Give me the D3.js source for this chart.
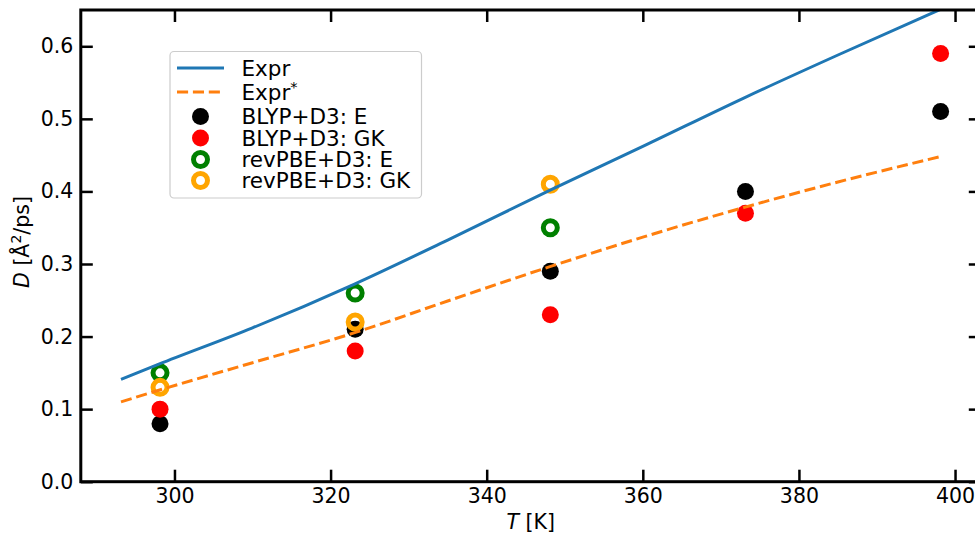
<!DOCTYPE html>
<html lang="en">
<head>
<meta charset="UTF-8">
<title>Diffusion coefficient vs temperature</title>
<script src="https://d3js.org/d3.v7.min.js"></script>
<style>
    body { margin: 0; background: #ffffff; }
    svg { display: block; font-family: "DejaVu Sans", sans-serif; }
    .tick text { font-size: 20.5px; fill: #000; font-family: "DejaVu Sans", sans-serif; }
    .tick line { stroke: #000; stroke-width: 2.5px; }
</style>
</head>
<body>
<svg width="975" height="534"></svg>
<script>
    // scatter points (temperature in K, D in Å^2/ps)
    const simTemps = [298.15, 323.15, 348.15, 373.15, 398.15];
    const blypE = [0.08, 0.21, 0.29, 0.40, 0.51];
    const blypGK = [0.10, 0.18, 0.23, 0.37, 0.59];
    const revTemps = [298.15, 323.15, 348.15];
    const revE = [0.15, 0.26, 0.35];
    const revGK = [0.13, 0.22, 0.41];

    const exprTemps = [293.15, 298, 310, 323, 335, 348, 360, 373, 385, 398.15];
    const exprD = [0.141, 0.162, 0.212, 0.272, 0.333, 0.401, 0.462, 0.529, 0.588, 0.651];
    const exprStarD = [0.110, 0.126, 0.164, 0.205, 0.249, 0.296, 0.337, 0.378, 0.413, 0.448];

    const xTicks = [300, 320, 340, 360, 380, 400];
    const yTicks = [0.0, 0.1, 0.2, 0.3, 0.4, 0.5, 0.6];

    const legendLabels = ["Expr", "Expr", "BLYP+D3: E", "BLYP+D3: GK", "revPBE+D3: E", "revPBE+D3: GK"];

    const pLeft = 80.8, pRight = 980.8, pTop = 10, pBottom = 481.7;

    let svg = d3.select("svg");

    let x = d3.scaleLinear().domain([288, 403.3]).range([pLeft, pRight]);
    let y = d3.scaleLinear().domain([0, 0.65]).range([pBottom, pTop]);

    svg.append("defs").append("clipPath")
        .attr("id", "plotClip")
        .append("rect")
        .attr("x", pLeft).attr("y", pTop)
        .attr("width", pRight - pLeft).attr("height", pBottom - pTop);

    let plot = svg.append("g").attr("clip-path", "url(#plotClip)");

    // scatter first (matplotlib puts lines on top of scatter)
    function filled(temps, vals, color) {
        plot.append("g").selectAll("circle")
            .data(temps.map((t, i) => [t, vals[i]]))
            .enter().append("circle")
            .attr("cx", d => x(d[0]))
            .attr("cy", d => y(d[1]))
            .attr("r", 8.5)
            .attr("fill", color);
    }
    function hollow(temps, vals, color) {
        plot.append("g").selectAll("circle")
            .data(temps.map((t, i) => [t, vals[i]]))
            .enter().append("circle")
            .attr("cx", d => x(d[0]))
            .attr("cy", d => y(d[1]))
            .attr("r", 7)
            .attr("fill", "none")
            .attr("stroke", color)
            .attr("stroke-width", 5);
    }
    filled(simTemps, blypE, "#000000");
    filled(simTemps, blypGK, "#ff0000");
    hollow(revTemps, revE, "#008000");
    hollow(revTemps, revGK, "#ffa500");

    let line = d3.line()
        .x(d => x(d[0]))
        .y(d => y(d[1]))
        .curve(d3.curveMonotoneX);

    plot.append("path")
        .datum(exprTemps.map((t, i) => [t, exprD[i]]))
        .attr("d", line)
        .attr("fill", "none")
        .attr("stroke", "#1f77b4")
        .attr("stroke-width", 3);

    plot.append("path")
        .datum(exprTemps.map((t, i) => [t, exprStarD[i]]))
        .attr("d", line)
        .attr("fill", "none")
        .attr("stroke", "#ff7f0e")
        .attr("stroke-width", 3)
        .attr("stroke-dasharray", "11.1,4.8");

    // axes, ticks pointing inward on all four sides
    let gx = svg.append("g")
        .attr("transform", `translate(0,${pBottom})`)
        .call(d3.axisBottom(x).tickValues(xTicks).tickSize(-12).tickPadding(7).tickFormat(d3.format("d")));
    gx.select(".domain").remove();

    let gy = svg.append("g")
        .attr("transform", `translate(${pLeft},0)`)
        .call(d3.axisLeft(y).tickValues(yTicks).tickSize(-12).tickPadding(7.5).tickFormat(d3.format(".1f")));
    gy.select(".domain").remove();

    let gxt = svg.append("g")
        .attr("transform", `translate(0,${pTop})`)
        .call(d3.axisTop(x).tickValues(xTicks).tickSize(-12).tickFormat(""));
    gxt.select(".domain").remove();

    let gyr = svg.append("g")
        .attr("transform", `translate(${pRight},0)`)
        .call(d3.axisRight(y).tickValues(yTicks).tickSize(-12).tickFormat(""));
    gyr.select(".domain").remove();

    svg.selectAll("g").attr("font-size", null).attr("font-family", null);

    // spines
    svg.append("rect")
        .attr("x", pLeft).attr("y", pTop)
        .attr("width", pRight - pLeft).attr("height", pBottom - pTop)
        .attr("fill", "none")
        .attr("stroke", "#000")
        .attr("stroke-width", 3);

    // axis labels
    let xl = svg.append("text")
        .attr("x", (pLeft + pRight) / 2)
        .attr("y", 529)
        .attr("text-anchor", "middle")
        .attr("font-size", "20.5px");
    xl.append("tspan").attr("font-style", "italic").text("T");
    xl.append("tspan").text(" [K]");

    let yl = svg.append("text")
        .attr("transform", "translate(28.5,242) rotate(-90)")
        .attr("text-anchor", "middle")
        .attr("font-size", "20.5px");
    yl.append("tspan").attr("font-style", "italic").text("D");
    yl.append("tspan").text(" [Å");
    yl.append("tspan").attr("font-size", "14px").attr("baseline-shift", "super").text("2");
    yl.append("tspan").text("/ps]");

    // legend
    let legend = svg.append("g");
    legend.append("rect")
        .attr("x", 170).attr("y", 51.5)
        .attr("width", 251.5).attr("height", 146.5)
        .attr("rx", 4)
        .attr("fill", "#ffffff")
        .attr("fill-opacity", 0.8)
        .attr("stroke", "#cccccc")
        .attr("stroke-width", 1.2);

    let rowY = [68, 92, 116.5, 138, 159.5, 180.5];

    legend.append("line")
        .attr("x1", 177).attr("x2", 224).attr("y1", rowY[0]).attr("y2", rowY[0])
        .attr("stroke", "#1f77b4").attr("stroke-width", 3);
    legend.append("line")
        .attr("x1", 177).attr("x2", 224).attr("y1", rowY[1]).attr("y2", rowY[1])
        .attr("stroke", "#ff7f0e").attr("stroke-width", 3)
        .attr("stroke-dasharray", "11.1,4.8");
    legend.append("circle").attr("cx", 200.5).attr("cy", rowY[2]).attr("r", 8.5).attr("fill", "#000000");
    legend.append("circle").attr("cx", 200.5).attr("cy", rowY[3]).attr("r", 8.5).attr("fill", "#ff0000");
    legend.append("circle").attr("cx", 200.5).attr("cy", rowY[4]).attr("r", 7)
        .attr("fill", "none").attr("stroke", "#008000").attr("stroke-width", 5);
    legend.append("circle").attr("cx", 200.5).attr("cy", rowY[5]).attr("r", 7)
        .attr("fill", "none").attr("stroke", "#ffa500").attr("stroke-width", 5);

    legendLabels.forEach((lab, i) => {
        let t = legend.append("text")
            .attr("x", 241.5)
            .attr("y", rowY[i] + 7.6)
            .attr("font-size", "21.5px")
            .attr("fill", "#000")
            .text(lab);
        if (i === 1) {
            t.append("tspan").attr("font-size", "14.5px").attr("baseline-shift", "super").text("*");
        }
    });
</script>
</body>
</html>
